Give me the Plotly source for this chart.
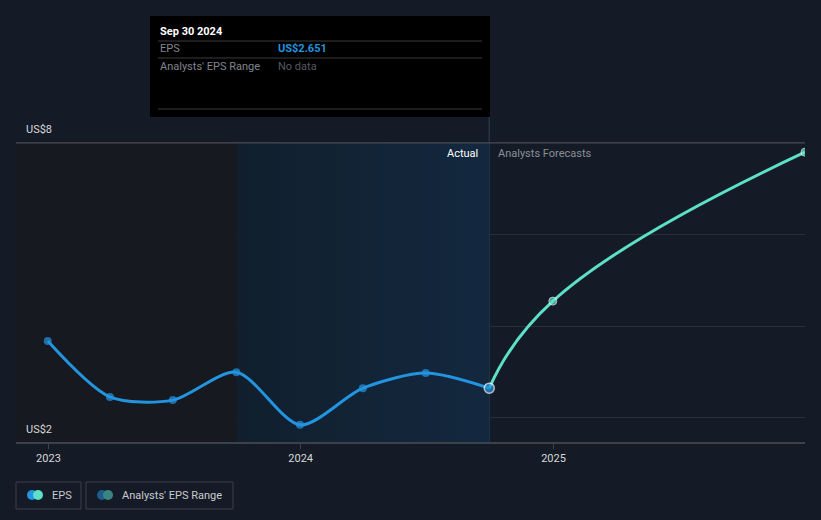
import plotly.graph_objects as go

W, H = 821, 520

# ---- data ----
eps_dates = ["2022-12-31", "2023-03-31", "2023-06-30", "2023-09-30",
             "2023-12-31", "2024-03-31", "2024-06-30", "2024-09-30"]
eps_values = [3.68, 2.46, 2.39, 3.00, 1.85, 2.65, 2.98, 2.651]

fc_dates = ["2024-09-30", "2024-12-31", "2025-12-31"]
fc_values = [2.651, 4.55, 7.80]

x_tick_vals = ["2023-01-01", "2024-01-01", "2025-01-01"]
x_tick_text = ["2023", "2024", "2025"]
y_grid_vals = [2, 4, 6, 8]
y_label_vals = [8, 2]
y_label_text = ["US$8", "US$2"]

x_range = ["2022-11-15", "2025-12-31"]
y_range = [1.476, 8.567]
past_start = "2023-09-30"
actual_end = "2024-09-30"

BG = "#151b26"
BLUE = "#2394df"
TEAL = "#5ce0c8"
FONT = "Roboto"


def px(x):
    return x / W


def py(y):
    return 1 - y / H


fig = go.Figure()

# shaded "past" region (dark)
fig.add_trace(go.Scatter(
    x=[x_range[0], past_start, past_start, x_range[0]],
    y=[y_range[0], y_range[0], 8, 8],
    fill="toself", fillcolor="#16191f", mode="none",
    hoverinfo="skip", showlegend=False))

# highlighted region (blue gradient)
fig.add_trace(go.Scatter(
    x=[past_start, actual_end, actual_end, past_start],
    y=[y_range[0], y_range[0], 8, 8],
    fill="toself", mode="none",
    fillgradient=dict(type="horizontal",
                      colorscale=[[0, "#111f2d"], [1, "#13283f"]]),
    hoverinfo="skip", showlegend=False))

# forecast line
fig.add_trace(go.Scatter(
    x=fc_dates, y=fc_values, mode="lines+markers",
    line=dict(color=TEAL, width=3, shape="spline", smoothing=1.3),
    marker=dict(size=[0, 8, 8], color=TEAL),
    hoverinfo="skip", showlegend=False))

# EPS line
fig.add_trace(go.Scatter(
    x=eps_dates, y=eps_values, mode="lines+markers",
    line=dict(color=BLUE, width=3, shape="spline", smoothing=0.8),
    marker=dict(size=[8] * 7 + [10], color=BLUE,
                line=dict(color=["rgba(0,0,0,0)"] * 7 + ["#ffffff"], width=[0] * 7 + [1.5])),
    hoverinfo="skip", showlegend=False))

shapes = []
# top gridline brighter
shapes.append(dict(type="line", xref="paper", yref="y", x0=px(16), x1=px(805),
                   y0=8, y1=8, line=dict(color="#4a4f58", width=1), layer="above"))
# vertical divider
shapes.append(dict(type="line", xref="x", yref="y", x0=actual_end, x1=actual_end,
                   y0=y_range[0], y1=y_range[1], line=dict(color="#263546", width=1.5),
                   layer="below"))

# tooltip box
shapes.append(dict(type="rect", xref="paper", yref="paper", x0=px(150), x1=px(490),
                   y0=py(117), y1=py(16), fillcolor="#000000", line=dict(width=0), layer="above"))
for yy in (41, 58, 109):
    shapes.append(dict(type="line", xref="paper", yref="paper", x0=px(158), x1=px(482),
                       y0=py(yy), y1=py(yy), line=dict(color="#3a3a3a", width=1), layer="above"))

# legend boxes
for x0, x1 in ((16, 81), (86, 233)):
    shapes.append(dict(type="rect", xref="paper", yref="paper", x0=px(x0), x1=px(x1),
                       y0=py(509), y1=py(482), line=dict(color="#3a3f48", width=1),
                       fillcolor="rgba(0,0,0,0)"))
for cx, col in ((32, BLUE), (38, TEAL), (102, "#1d5c8c"), (108, "#3b8580")):
    shapes.append(dict(type="circle", xref="paper", yref="paper",
                       x0=px(cx - 5), x1=px(cx + 5), y0=py(500), y1=py(490),
                       fillcolor=col, line=dict(width=0)))

annotations = []
for v, t in zip(y_label_vals, y_label_text):
    annotations.append(dict(xref="paper", yref="y", x=px(24), y=v, text=t,
                            xanchor="left", yanchor="middle",
                            yshift=13 if v == 8 else -12, showarrow=False,
                            font=dict(family=FONT, size=11, color="#d6d8db")))
annotations.append(dict(xref="x", yref="y", x=actual_end, y=8, text="Actual",
                        xanchor="right", yanchor="middle", xshift=-9, yshift=-11,
                        showarrow=False, font=dict(family=FONT, size=11, color="#ffffff")))
annotations.append(dict(xref="x", yref="y", x=actual_end, y=8, text="Analysts Forecasts",
                        xanchor="left", yanchor="middle", xshift=7, yshift=-11,
                        showarrow=False, font=dict(family=FONT, size=11, color="#8a8f96")))

tooltip_txt = [
    (158, 31, "<b>Sep 30 2024</b>", "#ffffff"),
    (158, 48, "EPS", "#80858c"),
    (276, 48, "<b>US$2.651</b>", BLUE),
    (158, 66, "Analysts' EPS Range", "#80858c"),
    (276, 66, "No data", "#555a60"),
]
for x, y, t, c in tooltip_txt:
    annotations.append(dict(xref="paper", yref="paper", x=px(x), y=py(y), text=t,
                            xanchor="left", yanchor="middle", showarrow=False,
                            font=dict(family=FONT, size=11, color=c)))

annotations.append(dict(xref="paper", yref="paper", x=px(50), y=py(495), text="EPS",
                        xanchor="left", yanchor="middle", showarrow=False,
                        font=dict(family=FONT, size=11, color="#c8cacd")))
annotations.append(dict(xref="paper", yref="paper", x=px(120), y=py(495),
                        text="Analysts' EPS Range", xanchor="left", yanchor="middle",
                        showarrow=False, font=dict(family=FONT, size=11, color="#c8cacd")))

fig.update_layout(
    width=W, height=H,
    margin=dict(l=0, r=0, t=0, b=0),
    paper_bgcolor=BG, plot_bgcolor=BG,
    showlegend=False,
    shapes=shapes,
    annotations=annotations,
    font=dict(family=FONT, size=11, color="#d6d8db"),
    xaxis=dict(domain=[px(16), px(805)], type="date", range=x_range,
               tickvals=x_tick_vals, ticktext=x_tick_text,
               showgrid=False, zeroline=False,
               showline=True, linecolor="#3d424a", linewidth=1.5,
               ticks="outside", ticklen=5, tickcolor="#3d424a",
               tickfont=dict(family=FONT, size=11, color="#d6d8db")),
    yaxis=dict(domain=[py(442), py(117)], range=y_range,
               tickvals=y_grid_vals, showticklabels=False,
               showgrid=True, gridcolor="#2a303a", gridwidth=1,
               zeroline=False, showline=False),
)

fig.write_html("out.html", config={"displayModeBar": False},
               post_script="document.body.style.margin='0';document.body.style.overflow='hidden';")
